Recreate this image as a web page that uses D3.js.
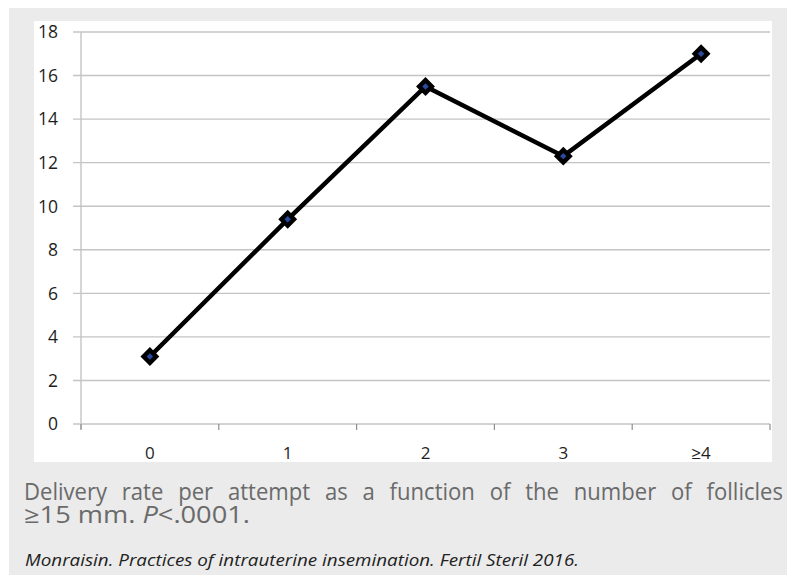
<!DOCTYPE html>
<html><head><meta charset="utf-8">
<script src="https://cdn.jsdelivr.net/npm/d3@7"></script>
<style>body{margin:0;background:#fff}svg{display:block}</style>
</head><body>
<script>
const categories = ["0","1","2","3","\u22654"];
const values = [3.1, 9.4, 15.5, 12.3, 17.0];
const yTicks = [0,2,4,6,8,10,12,14,16,18];
const captionLine1 = "Delivery rate per attempt as a function of the number of follicles";
const citation = "Monraisin. Practices of intrauterine insemination. Fertil Steril 2016.";

const W = 787, H = 575;
const FONT = "'Open Sans', sans-serif";
const svg = d3.select("body").append("svg").attr("width", W).attr("height", H);
svg.append("rect").attr("x",9).attr("y",8).attr("width",W-9).attr("height",H-8).attr("fill","#ebebeb");
svg.append("rect").attr("x",34).attr("y",21).attr("width",738).attr("height",441).attr("fill","#fff");

const x = d3.scaleBand().domain(categories).range([81, 770]);
const y = d3.scaleLinear().domain([0,18]).range([424, 32]);

// gridlines
svg.append("g").selectAll("line").data(yTicks).join("line")
  .attr("x1", 73).attr("x2", 770)
  .attr("y1", d=>y(d)).attr("y2", d=>y(d))
  .attr("stroke", "#c4c4c4").attr("stroke-width", 1.4);

// y axis line
svg.append("line").attr("x1",81).attr("x2",81).attr("y1",y(18)).attr("y2",y(0)+5)
  .attr("stroke","#c4c4c4").attr("stroke-width",1.4);

// x tick marks
const xb = categories.map(c=>x(c)).concat([770]);
svg.append("g").selectAll("line").data(xb).join("line")
  .attr("x1", d=>d).attr("x2", d=>d).attr("y1", y(0)).attr("y2", y(0)+6)
  .attr("stroke","#8f8f8f").attr("stroke-width",1.2);

// y labels
svg.append("g").selectAll("text").data(yTicks).join("text")
  .attr("x", 58).attr("y", d=>y(d)).attr("dy","0.36em").attr("text-anchor","end")
  .attr("font-family",FONT).attr("font-size",17.5).attr("fill","#1e1e1e")
  .text(d=>d);

// x labels
svg.append("g").selectAll("text").data(categories).join("text")
  .attr("x", d=>x(d)+x.bandwidth()/2).attr("y", 453).attr("dy","0.36em").attr("text-anchor","middle")
  .attr("font-family",FONT).attr("font-size",17).attr("fill","#1e1e1e")
  .text(d=>d);

// line
const line = d3.line().x((d,i)=>x(categories[i])+x.bandwidth()/2).y(d=>y(d));
svg.append("path").datum(values).attr("d", line).attr("fill","none")
  .attr("stroke","#000").attr("stroke-width",4.5).attr("stroke-linejoin","miter");

// markers
svg.append("g").selectAll("path").data(values).join("path")
  .attr("d", d3.symbol(d3.symbolSquare, 80))
  .attr("transform",(d,i)=>`translate(${x(categories[i])+x.bandwidth()/2},${y(d)}) rotate(45)`)
  .attr("fill","#2a4aa0").attr("stroke","#000").attr("stroke-width",4.4);

// caption (slightly condensed, justified line 1)
const SX = 0.96;
const cap = svg.append("g").attr("transform", `translate(24,0) scale(${SX},1)`);
const t1 = cap.append("text").attr("x",0).attr("y",500)
  .attr("font-family",FONT).attr("font-size",23).attr("fill","#6a6a6a")
  .text(captionLine1);
const nat = t1.node().getComputedTextLength();
const spaces = captionLine1.split(" ").length - 1;
t1.attr("word-spacing", (759/SX - nat)/spaces);

const t2 = cap.append("text").attr("x",0).attr("y",523)
  .attr("font-family",FONT).attr("font-size",23).attr("fill","#6a6a6a");
t2.append("tspan").text("\u226515 mm. ");
t2.append("tspan").attr("font-style","italic").text("P");
t2.append("tspan").text("<.0001.");
t2.attr("textLength", 226/SX).attr("lengthAdjust","spacingAndGlyphs");

svg.append("text").attr("x",25).attr("y",566)
  .attr("font-family",FONT).attr("font-size",17).attr("font-style","italic")
  .attr("fill","#222").attr("textLength",554).attr("lengthAdjust","spacingAndGlyphs")
  .text(citation);
</script>
</body></html>
